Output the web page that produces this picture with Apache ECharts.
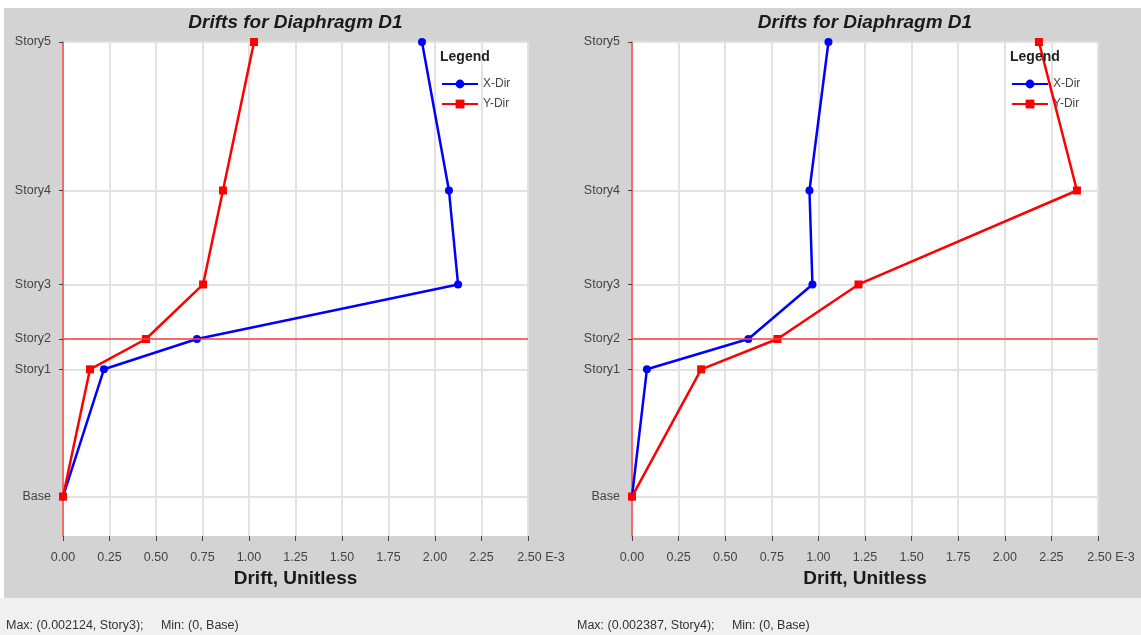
<!DOCTYPE html>
<html>
<head>
<meta charset="utf-8">
<title>Drifts for Diaphragm D1</title>
<script src="https://cdn.jsdelivr.net/npm/echarts@6/dist/echarts.min.js"></script>
<style>
  html, body { margin: 0; padding: 0; background: #ffffff; }
  #chart { width: 1141px; height: 635px; }
</style>
</head>
<body>
<div id="chart"></div>
<script>
// Story levels (elevation) and their names
const stories = ['Base', 'Story1', 'Story2', 'Story3', 'Story4', 'Story5'];
const elevations = [0, 4.2, 5.2, 7.0, 10.1, 15.0];

// Drift values, Base -> Story5
const leftXDir = [0, 0.000220, 0.000720, 0.002124, 0.002075, 0.001930];
const leftYDir = [0, 0.000145, 0.000446, 0.000753, 0.000860, 0.001027];
const rightXDir = [0, 0.000080, 0.000624, 0.000968, 0.000952, 0.001054];
const rightYDir = [0, 0.000371, 0.000780, 0.001215, 0.002387, 0.002183];

// Drift axis tick labels (0 .. 2.5E-3 in steps of 0.25E-3)
const xTickLabels = ['0.00', '0.25', '0.50', '0.75', '1.00', '1.25', '1.50', '1.75', '2.00', '2.25', '2.50 E-3'];
const xStep = 0.00025;

const chartTitle = 'Drifts for Diaphragm D1';
const xAxisTitle = 'Drift, Unitless';
const legendTitle = 'Legend';
const seriesNames = ['X-Dir', 'Y-Dir'];
const markedStory = 'Story2';

const FONT = '"Liberation Sans", Arial, Helvetica, sans-serif';
const BLUE = '#0000ff';
const RED = '#ff0000';
const REF_RED = '#ff4040';

const panels = [
  { left: 63, width: 465, x: leftXDir, y: leftYDir },
  { left: 632, width: 466, x: rightXDir, y: rightYDir }
];
const TOP = 42, HEIGHT = 494;

function pairs(vals) {
  return vals.map((v, i) => [v, elevations[i]]);
}

function extremes(p) {
  let max = { v: -Infinity, s: '' }, min = { v: Infinity, s: '' };
  [p.x, p.y].forEach(arr => arr.forEach((v, i) => {
    if (v > max.v) max = { v, s: stories[i] };
    if (v < min.v) min = { v, s: stories[i] };
  }));
  return 'Max: (' + max.v + ', ' + max.s + ');     Min: (' + min.v + ', ' + min.s + ')';
}

const grids = [], xAxes = [], yAxes = [], series = [], legends = [], graphics = [];

// page frame: white margin strips and status footer
graphics.push(
  { type: 'rect', shape: { x: 0, y: 0, width: 1141, height: 8 }, style: { fill: '#ffffff' }, silent: true },
  { type: 'rect', shape: { x: 0, y: 0, width: 4, height: 598 }, style: { fill: '#ffffff' }, silent: true },
  { type: 'rect', shape: { x: 0, y: 598, width: 1141, height: 37 }, style: { fill: '#f0f0f0' }, silent: true }
);

panels.forEach((p, k) => {
  grids.push({
    left: p.left, top: TOP, width: p.width, height: HEIGHT,
    show: true, backgroundColor: '#ffffff', borderWidth: 0
  });
  xAxes.push({
    gridIndex: k, type: 'value', min: 0, max: 0.0025, interval: xStep,
    position: 'bottom',
    name: xAxisTitle, nameLocation: 'middle', nameGap: 33,
    nameTextStyle: { fontFamily: FONT, fontSize: 19, fontWeight: 'bold', color: '#1a1a1a' },
    axisLine: { show: false, onZero: false },
    axisTick: { show: true, length: 5, lineStyle: { color: '#444', width: 1 } },
    axisLabel: {
      margin: 15, fontFamily: FONT, fontSize: 12.5, color: '#444',
      formatter: v => {
        const t = xTickLabels[Math.round(v / xStep)];
        return t.indexOf(' ') > 0 ? '{e|' + t + '}' : t;
      },
      rich: { e: { fontFamily: FONT, fontSize: 12.5, color: '#444', padding: [0, 0, 0, 26] } }
    },
    splitLine: { show: true, lineStyle: { color: '#e2e2e2', width: 2 } }
  });
  yAxes.push({
    gridIndex: k, type: 'value', min: -1.3, max: 15.0,
    axisLine: { show: true, onZero: false, lineStyle: { color: REF_RED, width: 1.5 } },
    axisTick: { show: true, length: 4, customValues: elevations, lineStyle: { color: '#444', width: 1 } },
    axisLabel: {
      margin: 12, fontFamily: FONT, fontSize: 12.5, color: '#444',
      customValues: elevations,
      formatter: v => {
        const i = elevations.findIndex(e => Math.abs(e - v) < 1e-6);
        return i >= 0 ? stories[i] : '';
      }
    },
    splitLine: { show: true, lineStyle: { color: '#e2e2e2', width: 2 } }
  });
  series.push({
    name: seriesNames[0], type: 'line', xAxisIndex: k, yAxisIndex: k,
    data: pairs(p.x), symbol: 'circle', symbolSize: 8,
    lineStyle: { color: BLUE, width: 2.5 }, itemStyle: { color: BLUE },
    animation: false, z: 3,
    markLine: {
      silent: true, symbol: 'none', label: { show: false },
      itemStyle: { color: REF_RED },
      lineStyle: { color: REF_RED, width: 1.5, type: 'solid' },
      emphasis: { disabled: true },
      data: [{ yAxis: elevations[stories.indexOf(markedStory)], lineStyle: { color: REF_RED } }]
    }
  });
  series.push({
    name: seriesNames[1], type: 'line', xAxisIndex: k, yAxisIndex: k,
    data: pairs(p.y), symbol: 'rect', symbolSize: 8,
    lineStyle: { color: RED, width: 2.5 }, itemStyle: { color: RED },
    animation: false, z: 4
  });
  const legX = p.left + p.width - 86;
  legends.push({
    orient: 'vertical', left: legX - 6, top: 73, itemWidth: 36, itemHeight: 11, itemGap: 8,
    data: seriesNames, selectedMode: false,
    textStyle: { fontFamily: FONT, fontSize: 12, color: '#444' }
  });
  graphics.push({
    type: 'text', left: legX - 2, top: 50, z: 10,
    style: { text: legendTitle, font: 'bold 14px ' + FONT, fill: '#222' }
  });
  graphics.push({
    type: 'text', x: p.left + p.width / 2, y: 23, z: 10,
    style: { text: chartTitle, font: 'italic bold 19px ' + FONT, fill: '#1a1a1a', align: 'center', verticalAlign: 'middle' }
  });
  graphics.push({
    type: 'text', x: k === 0 ? 6 : 577, y: 626, z: 10,
    style: { text: extremes(p), font: '12.5px ' + FONT, fill: '#333', verticalAlign: 'middle' }
  });
});

const chart = echarts.init(document.getElementById('chart'), null, { renderer: 'canvas' });
chart.setOption({
  backgroundColor: '#d3d3d3',
  animation: false,
  grid: grids,
  xAxis: xAxes,
  yAxis: yAxes,
  legend: legends,
  series: series,
  graphic: graphics
});
</script>
</body>
</html>
